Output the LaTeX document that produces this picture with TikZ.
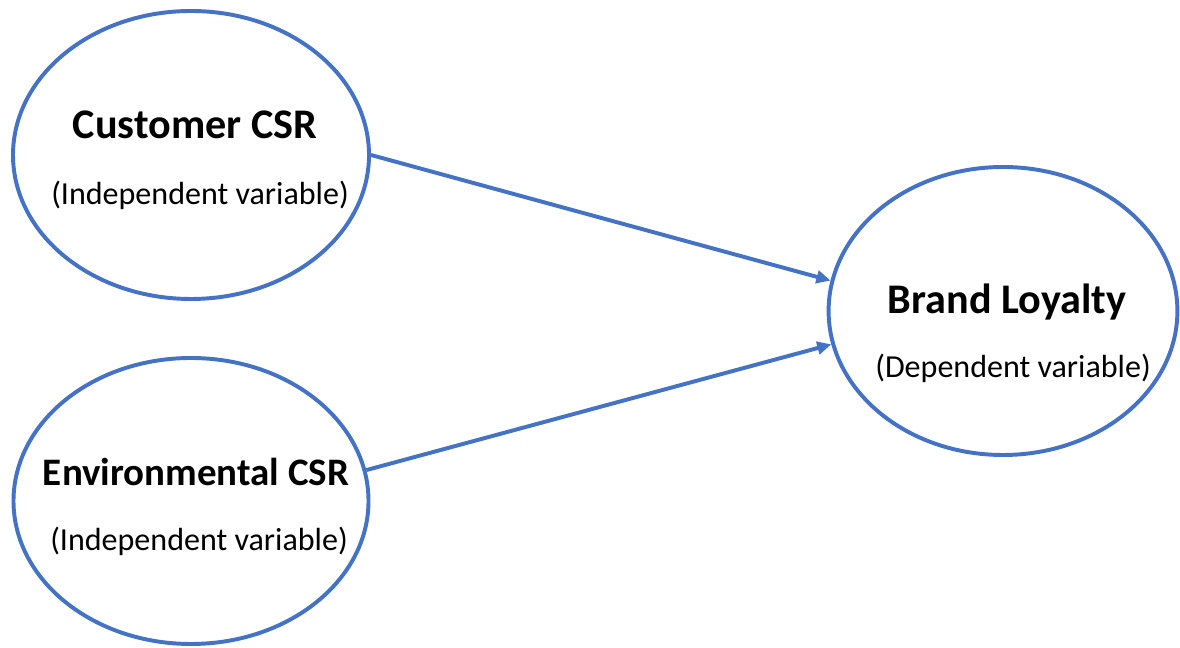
\documentclass[tikz,border=0pt]{standalone}
\usepackage{fontspec}
\setmainfont{Carlito}
\usetikzlibrary{shapes.geometric, arrows.meta}

\definecolor{lineblue}{HTML}{4472C4}

\tikzset{
	var/.style = {draw = lineblue, line width = 2.8pt, ellipse, inner sep = 0pt},
	vartitle/.style = {font = \fontsize{30}{34}\selectfont\bfseries},
	varsub/.style = {font = \fontsize{22.8}{26}\selectfont},
	link/.style = {draw = lineblue, line width = 2.8pt, -{Triangle[length = 10pt, width = 9pt]}}
}

\begin{document}
\begin{tikzpicture}
				\useasboundingbox (0,0) rectangle (29.5,16.2);
				
				\node (cust) at (4.775,12.325)[var, minimum width = 8.9cm, minimum height = 7.2cm]{};
				\node (env) at (4.775,3.675)[var, minimum width = 8.875cm, minimum height = 7.15cm]{};
				\node (brand) at (25.075,8.425)[var, minimum width = 8.72cm, minimum height = 7.2cm]{};
				
				\node (custT) at (4.875,13.075)[vartitle]{Customer CSR};
				\node (custS) at (5.0,11.325)[varsub]{(Independent variable)};
				\node (envT) at (4.9,4.4)[vartitle, font = \fontsize{27.7}{32}\selectfont\bfseries]{Environmental CSR};
				\node (envS) at (4.975,2.675)[varsub]{(Independent variable)};
				\node (brandT) at (25.175,8.65)[vartitle]{Brand Loyalty};
				\node (brandS) at (25.325,7.0)[varsub]{(Dependent variable)};
				
				\draw[link] (cust.0)--(brand.170);
				\draw[link] (env.10)--(brand.191);
			\end{tikzpicture}
\end{document}
